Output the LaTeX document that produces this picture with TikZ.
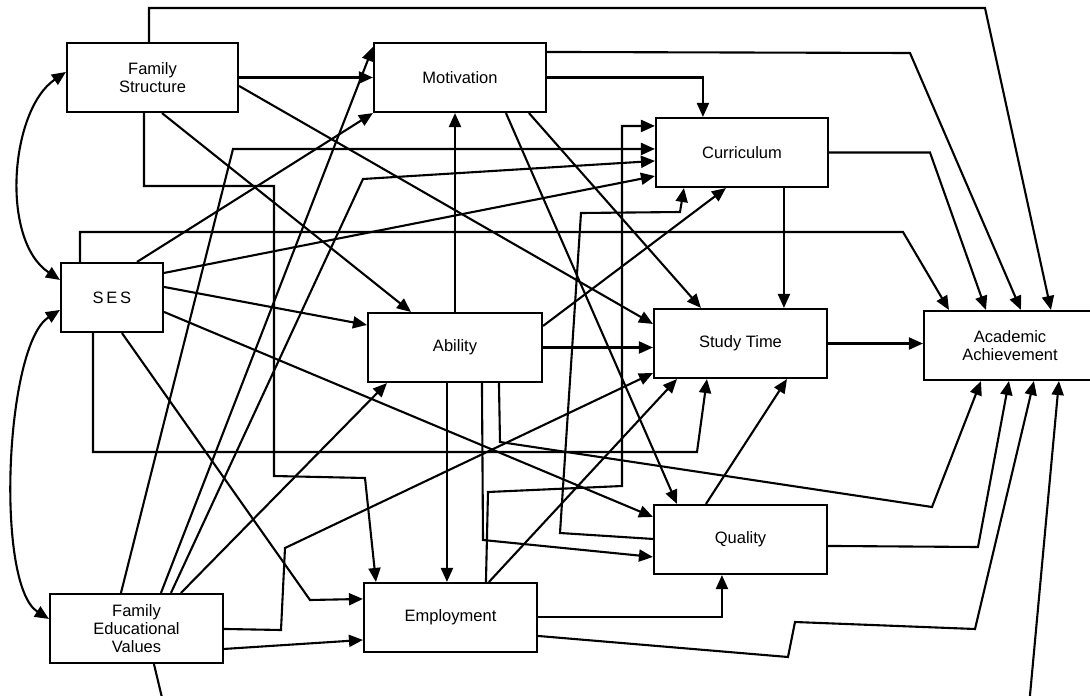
\documentclass[tikz,border=0pt]{standalone}
\usepackage{fontspec}
\setmainfont{Liberation Sans}
\usetikzlibrary{arrows.meta, calc}
\tikzstyle{var} = [rectangle, 
minimum width=173pt, 
minimum height=69pt, 
inner sep=0pt, 
align=center, 
draw=black, 
line width=2.1pt, 
font=\fontsize{16.5}{18}\selectfont]
\tikzstyle{arrow} = [line width=2.1pt,->,>={Triangle[length=14pt,width=12pt]}]

\begin{document}
\begin{tikzpicture}[x=1pt, y=-1pt]
\useasboundingbox (0,0) rectangle (1090,696);

\node (fam) [var, minimum width=171pt] at (152.5,77.5) {Family\\Structure};
\node (mot) [var, minimum width=172pt] at (460,77.5) {Motivation};
\node (cur) [var, minimum width=172pt] at (742,152.5) {Curriculum};
\node (ses) [var, minimum width=102pt] at (112,297.5) {S\,E\,S};
\node (abil) [var, minimum width=174pt] at (455,347.5) {Ability};
\node (stime) [var] at (740.5,343.5) {Study Time};
\node (ach) [var, minimum width=172pt] at (1010,345.5) {Academic\\Achievement};
\node (qual) [var] at (740.5,539.5) {Quality};
\node (emp) [var] at (450.5,617.5) {Employment};
\node (fev) [var] at (136.5,628.5) {Family\\Educational\\Values};

% correlations
\draw [arrow, <->] ($(fam.north west)+(0,30)$) .. controls (10,110) and (0,240) .. ($(ses.north west)+(0,18)$);
\draw [arrow, <->] ($(ses.north west)+(0,48)$) .. controls (5,345) and (-5,585) .. ($(fev.north west)+(0,26)$);

% family structure
\draw [arrow] ($(fam.north west)+(83,0)$) |- (985,8) -- ($(ach.north west)+(128,0)$);
\draw [arrow] (fam.east) -- (mot.west);
\draw [arrow] ($(fam.north east)+(0,44)$) -- ($(stime.north west)+(0,16)$);
\draw [arrow] ($(fam.south west)+(96,0)$) -- ($(abil.north west)+(44,0)$);
\draw [arrow] ($(fam.south west)+(78,0)$) |- (274,186) -- (274,476) -- (365,478) -- ($(emp.north west)+(13,0)$);

% SES
\draw [arrow] ($(ses.north west)+(20,0)$) |- (903,232) -- ($(ach.north west)+(26,0)$);
\draw [arrow] ($(ses.north west)+(77,0)$) -- (mot.south west);
\draw [arrow] ($(ses.north east)+(0,11)$) -- ($(cur.south west)+(0,-12)$);
\draw [arrow] ($(ses.north east)+(0,25)$) -- ($(abil.north west)+(0,13)$);
\draw [arrow] ($(ses.north east)+(0,50)$) -- ($(qual.north west)+(0,13)$);
\draw [arrow] ($(ses.south west)+(62,0)$) -- (310,600) -- ($(emp.north west)+(0,17)$);
\draw [arrow] ($(ses.south west)+(33,0)$) |- (697,452) -- ($(stime.south west)+(54,0)$);

% family educational values
\draw [arrow] ($(fev.north west)+(72,0)$) -- (233,149) -- ($(cur.north west)+(0,32)$);
\draw [arrow] ($(fev.north west)+(112,0)$) -- ($(mot.north west)+(0,5)$);
\draw [arrow] ($(fev.north west)+(122,0)$) -- (363,179) -- ($(cur.north west)+(0,44)$);
\draw [arrow] ($(fev.north west)+(132,0)$) -- ($(abil.south west)+(20,0)$);
\draw [arrow] ($(fev.north east)+(0,36)$) -- (281,630) -- (285,548) -- ($(stime.south west)+(0,-6)$);
\draw [arrow] ($(fev.north east)+(0,56)$) -- ($(emp.north west)+(0,58)$);
\draw [arrow] ($(fev.south west)+(105,0)$) -- (164,706) -- (1029,706) -- ($(ach.south west)+(136,0)$);

% ability
\draw [arrow] (abil.north) -- (abil.north |- mot.south);
\draw [arrow] ($(abil.north east)+(0,14)$) -- ($(cur.south west)+(71,0)$);
\draw [arrow] (abil.east) -- (abil.east -| stime.west);
\draw [arrow] ($(abil.south west)+(80,0)$) -- ($(emp.north west)+(84,0)$);
\draw [arrow] ($(abil.south west)+(115,0)$) -- (483,540) -- ($(qual.north west)+(0,53)$);
\draw [arrow] ($(abil.south west)+(132,0)$) -- (500,442) -- (932,507) -- ($(ach.south west)+(58,0)$);

% motivation
\draw [arrow] ($(mot.north east)+(0,10)$) -- (910,53) -- ($(ach.north west)+(98,0)$);
\draw [arrow] (mot.east) -| ($(cur.north west)+(48,0)$);
\draw [arrow] ($(mot.south west)+(133,0)$) -- ($(qual.north west)+(24,0)$);
\draw [arrow] ($(mot.south west)+(156,0)$) -- ($(stime.north west)+(48,0)$);

% curriculum, study time
\draw [arrow] (cur.east) -- (930,152.5) -- ($(ach.north west)+(63,0)$);
\draw [arrow] ($(cur.south west)+(129,0)$) -- ($(stime.north west)+(131,0)$);
\draw [arrow] (stime.east) -- (stime.east -| ach.west);

% quality
\draw [arrow] ($(qual.north east)+(0,42)$) -- (978,547) -- ($(ach.south west)+(86,0)$);
\draw [arrow] ($(qual.north west)+(53,0)$) -- ($(stime.south west)+(134,0)$);
\draw [arrow] ($(qual.north west)+(0,35)$) -- (560,533) -- (581,213) -- (680,212) -- ($(cur.south west)+(29,0)$);

% employment
\draw [arrow] ($(emp.north west)+(123,0)$) -- (488,492) -- (622,486) |- ($(cur.north west)+(0,9)$);
\draw [arrow] ($(emp.north west)+(126,0)$) -- ($(stime.south west)+(24,0)$);
\draw [arrow] ($(emp.north east)+(0,35)$) -| ($(qual.south west)+(69,0)$);
\draw [arrow] ($(emp.north east)+(0,54)$) -- (788,657) -- (795,622) -- (975,629) -- ($(ach.south west)+(111,0)$);

\end{tikzpicture}
\end{document}
